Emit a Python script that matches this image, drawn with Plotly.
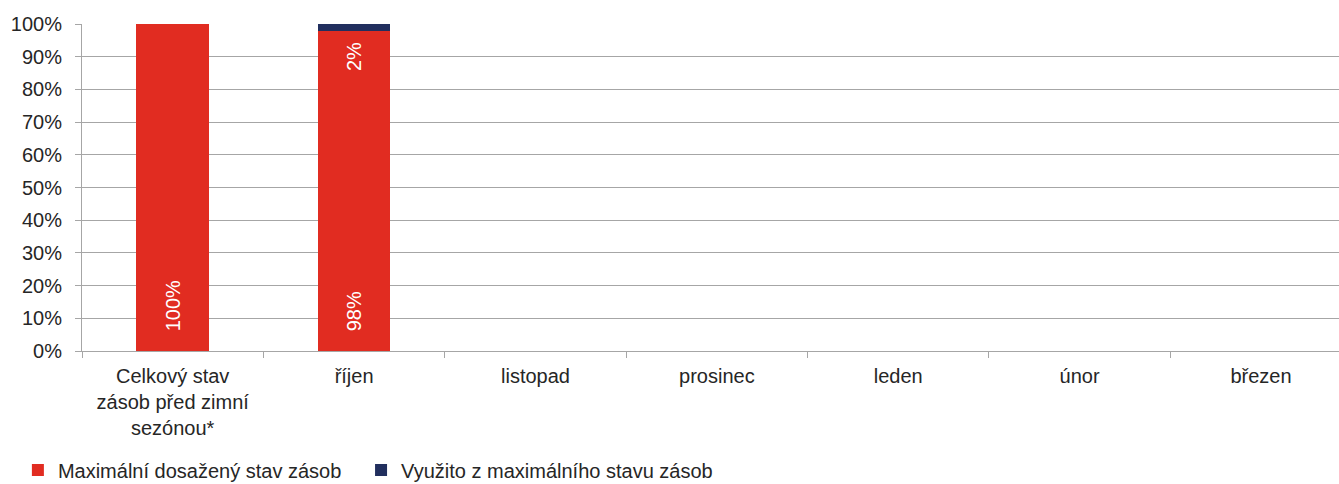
import plotly.graph_objects as go

categories = ["Celkový stav<br>zásob před zimní<br>sezónou*", "říjen", "listopad", "prosinec", "leden", "únor", "březen"]
max_stav = [100, 98, None, None, None, None, None]
vyuzito = [None, 2, None, None, None, None, None]
max_labels = ["100%", "98%", "", "", "", "", ""]
vyuzito_labels = ["", "2%", "", "", "", "", ""]

RED = "#E12C21"
NAVY = "#212F5E"
GRID = "#A6A6A6"
FONT = "Liberation Sans, Arial, sans-serif"
FS = 20
PAD = "\u00a0\u00a0\u00a0"

fig = go.Figure()
fig.add_trace(go.Bar(
    x=categories, y=max_stav, name="Maximální dosažený stav zásob",
    marker=dict(color=RED, line=dict(width=0)),
    text=[PAD + t if t else "" for t in max_labels],
    textposition="inside", insidetextanchor="start",
    textangle=-90, textfont=dict(color="white", size=FS, family=FONT),
    width=0.4, hoverinfo="skip", legend="legend",
))
fig.add_trace(go.Bar(
    x=categories, y=vyuzito, name="Využito z maximálního stavu zásob",
    marker=dict(color=NAVY, line=dict(width=0)),
    width=0.4, hoverinfo="skip", legend="legend2",
))

# label for the small "využito" segment, placed just below its base (as in the original)
for c, base, lab in zip(categories, max_stav, vyuzito_labels):
    if lab:
        fig.add_annotation(x=c, y=base, text=lab, showarrow=False, textangle=-90,
                           yanchor="top", yshift=-10,
                           font=dict(color="white", size=FS, family=FONT))

legend_common = dict(orientation="h", y=-0.364, xanchor="left", yanchor="middle",
                     font=dict(size=FS, family=FONT, color="#262626"),
                     bgcolor="rgba(0,0,0,0)")

fig.update_layout(
    barmode="stack",
    width=1339, height=484,
    margin=dict(l=82, r=0, t=24, b=133, autoexpand=False),
    paper_bgcolor="white", plot_bgcolor="white",
    font=dict(family=FONT, size=FS, color="#262626"),
    showlegend=True,
    legend=dict(x=-0.051, **legend_common),
    legend2=dict(x=0.222, **legend_common),
)
fig.update_xaxes(
    type="category", range=[-0.5, 6.43], automargin=False,
    showline=True, linecolor=GRID, linewidth=1,
    ticks="outside", tickson="boundaries", ticklen=6, tickcolor=GRID,
    ticklabelstandoff=7,
    showgrid=False, tickfont=dict(size=FS, family=FONT, color="#262626"),
)
fig.update_yaxes(
    range=[0, 100], dtick=10, ticksuffix="%", automargin=False,
    showgrid=True, gridcolor=GRID, gridwidth=1,
    showline=True, linecolor=GRID, linewidth=1,
    ticks="outside", ticklen=6, tickcolor=GRID,
    ticklabelstandoff=9,
    tickfont=dict(size=FS, family=FONT, color="#262626"),
    zeroline=False,
)

fig.write_html("out.html", config={"displayModeBar": False},
               post_script="document.body.style.margin='0';document.body.style.overflow='hidden';")
